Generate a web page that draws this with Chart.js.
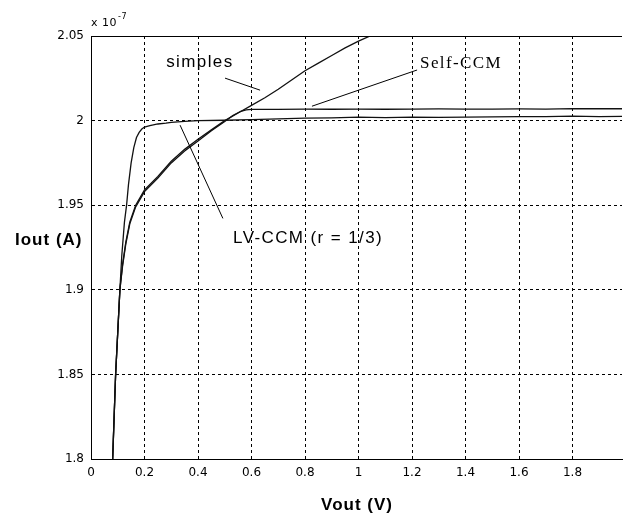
<!doctype html>
<html>
<head>
<meta charset="utf-8">
<title>Iout x Vout</title>
<script src="https://cdn.jsdelivr.net/npm/chart.js"></script>
<style>
  html, body { margin: 0; padding: 0; background: #fff; overflow: hidden; }
  #wrap { width: 623px; height: 517px; }
</style>
</head>
<body>
<div id="wrap"><canvas id="graf"></canvas></div>
<script>
// eixos
const xTicks = [0, 0.2, 0.4, 0.6, 0.8, 1, 1.2, 1.4, 1.6, 1.8];
const yTicks = [1.8, 1.85, 1.9, 1.95, 2, 2.05];

// LV-CCM (r = 1/3)
const lvVout = [0.081, 0.092, 0.108, 0.115, 0.125, 0.133, 0.14, 0.15, 0.16, 0.17, 0.18, 0.19, 0.2, 0.22, 0.25, 0.28, 0.3, 0.35, 0.4, 0.5, 0.6, 0.7, 0.8, 0.9, 1.0, 1.1, 1.2, 1.3, 1.4, 1.5, 1.6, 1.7, 1.8, 1.9, 1.985];
const lvIout = [1.8, 1.85, 1.9, 1.92, 1.94, 1.95, 1.962, 1.975, 1.984, 1.99, 1.993, 1.995, 1.9962, 1.997, 1.998, 1.9985, 1.999, 1.9995, 2.0, 2.0002, 2.0006, 2.001, 2.0015, 2.0016, 2.002, 2.0018, 2.0021, 2.0019, 2.0021, 2.0022, 2.0024, 2.0023, 2.0026, 2.0024, 2.0025];

// simples
const simVout = [0.081, 0.092, 0.108, 0.118, 0.13, 0.145, 0.167, 0.2, 0.25, 0.3, 0.35, 0.4, 0.45, 0.5, 0.55, 0.6, 0.65, 0.7, 0.75, 0.8, 0.85, 0.9, 0.95, 1.0, 1.05, 1.08];
const simIout = [1.8, 1.85, 1.9, 1.915, 1.928, 1.94, 1.95, 1.959, 1.967, 1.976, 1.983, 1.989, 1.9945, 2.0, 2.0045, 2.009, 2.0135, 2.0185, 2.024, 2.0295, 2.034, 2.0385, 2.043, 2.047, 2.0505, 2.053];

// Self-CCM
const selfVout = [0.081, 0.092, 0.108, 0.118, 0.13, 0.145, 0.167, 0.2, 0.25, 0.3, 0.35, 0.4, 0.45, 0.5, 0.53, 0.56, 0.58, 0.6, 0.7, 0.8, 0.9, 1.0, 1.1, 1.2, 1.3, 1.4, 1.5, 1.6, 1.7, 1.8, 1.9, 1.985];
const selfIout = [1.8, 1.85, 1.9, 1.914, 1.927, 1.939, 1.949, 1.958, 1.966, 1.975, 1.982, 1.988, 1.994, 1.9995, 2.003, 2.0055, 2.0063, 2.0066, 2.0066, 2.0068, 2.0067, 2.0068, 2.0067, 2.0068, 2.0069, 2.0068, 2.0068, 2.0069, 2.0068, 2.0071, 2.007, 2.007];

// textos e setas (coordenadas de dados)
const notas = [
  { text: 'simples', x: 0.407, y: 2.0346, align: 'center', font: '17px "Liberation Sans", Arial, sans-serif', seta: [0.501, 2.0251, 0.632, 2.018] },
  { text: 'Self-CCM', x: 1.23, y: 2.034, align: 'left', font: '17px "Liberation Serif", "Times New Roman", serif', seta: [1.219, 2.0299, 0.826, 2.0085] },
  { text: 'LV-CCM (r = 1/3)', x: 0.531, y: 1.9303, align: 'left', font: '17px "Liberation Sans", Arial, sans-serif', seta: [0.493, 1.9422, 0.333, 1.9973] }
];

function pares(xs, ys) {
  return xs.map((v, i) => ({ x: v, y: ys[i] }));
}

function serie(label, xs, ys) {
  return {
    label: label,
    data: pares(xs, ys),
    showLine: true,
    borderColor: '#111',
    borderWidth: 1.3,
    pointRadius: 0,
    tension: 0
  };
}

const extras = {
  id: 'extras',
  afterDraw(chart) {
    const ctx = chart.ctx;
    const a = chart.chartArea;
    const sx = chart.scales.x, sy = chart.scales.y;
    ctx.save();
    // moldura de cima
    ctx.strokeStyle = '#000';
    ctx.lineWidth = 1;
    ctx.beginPath();
    ctx.moveTo(a.left, a.top + 0.5);
    ctx.lineTo(a.right, a.top + 0.5);
    ctx.stroke();

    // notas
    ctx.fillStyle = '#000';
    ctx.textBaseline = 'middle';
    notas.forEach(n => {
      ctx.font = n.font;
      ctx.letterSpacing = '1.4px';
      ctx.textAlign = n.align;
      ctx.fillText(n.text, sx.getPixelForValue(n.x), sy.getPixelForValue(n.y));
      ctx.beginPath();
      ctx.moveTo(sx.getPixelForValue(n.seta[0]), sy.getPixelForValue(n.seta[1]));
      ctx.lineTo(sx.getPixelForValue(n.seta[2]), sy.getPixelForValue(n.seta[3]));
      ctx.stroke();
    });

    // rótulos dos eixos
    ctx.font = 'bold 17px "Liberation Sans", Arial, sans-serif';
    ctx.letterSpacing = '1px';
    ctx.textAlign = 'left';
    ctx.fillText('Iout (A)', 15, 240);
    ctx.textAlign = 'center';
    ctx.fillText('Vout (V)', 357, 505);

    // multiplicador
    ctx.letterSpacing = '0.5px';
    ctx.textAlign = 'left';
    ctx.font = '11px "DejaVu Sans", sans-serif';
    ctx.fillText('x 10', a.left, 23);
    const w = ctx.measureText('x 10').width;
    ctx.font = '8px "DejaVu Sans", sans-serif';
    ctx.fillText('-7', a.left + w + 1, 17);
    ctx.restore();
  }
};

new Chart(document.getElementById('graf'), {
  type: 'scatter',
  data: {
    datasets: [
      serie('LV-CCM (r = 1/3)', lvVout, lvIout),
      serie('simples', simVout, simIout),
      serie('Self-CCM', selfVout, selfIout)
    ]
  },
  options: {
    responsive: true,
    maintainAspectRatio: false,
    animation: false,
    layout: { padding: { top: 36, right: 1, left: 0, bottom: 0 } },
    plugins: { legend: { display: false }, tooltip: { enabled: false } },
    scales: {
      x: {
        type: 'linear',
        min: 0,
        max: 1.985,
        afterBuildTicks: s => { s.ticks = xTicks.map(v => ({ value: v })); },
        afterFit: s => { s.height = 58; },
        grid: { color: '#000', lineWidth: 1, drawTicks: false },
        border: { color: '#000', width: 1, dash: [3, 3] },
        ticks: {
          color: '#000',
          padding: 7,
          maxRotation: 0,
          font: { family: '"DejaVu Sans", sans-serif', size: 12 },
          callback: v => String(v)
        }
      },
      y: {
        type: 'linear',
        min: 1.8,
        max: 2.05,
        afterBuildTicks: s => { s.ticks = yTicks.map(v => ({ value: v })); },
        afterFit: s => { s.width = 91; },
        grid: { color: '#000', lineWidth: 1, drawTicks: false },
        border: { color: '#000', width: 1, dash: [3, 3] },
        ticks: {
          color: '#000',
          padding: 7,
          font: { family: '"DejaVu Sans", sans-serif', size: 12 },
          callback: v => String(v)
        }
      }
    }
  },
  plugins: [extras]
});
</script>
</body>
</html>
